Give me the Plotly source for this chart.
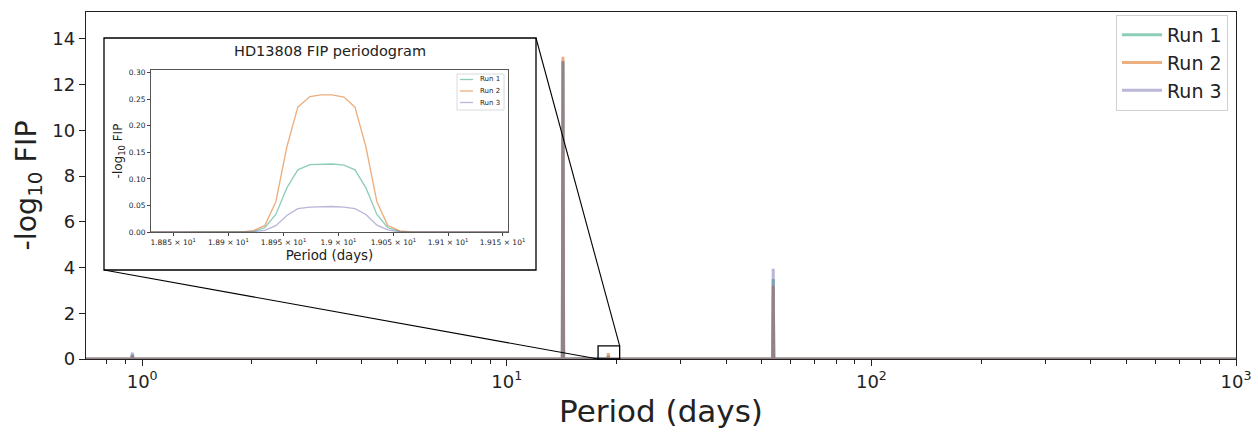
import math
import plotly.graph_objects as go

# ---------------- data ----------------
runs = ["Run 1", "Run 2", "Run 3"]
colors = ["#1b9e77", "#d95f02", "#7570b3"]

# main periodogram (period in days) - sparse samples
main_period = [0.70, 0.935, 0.940, 0.945, 14.20, 14.26, 14.32,
               18.913, 18.923, 18.933, 18.943, 18.953, 18.963, 18.974, 18.984,
               18.994, 19.005, 19.015, 19.025, 19.035, 19.045, 19.056, 19.066,
               53.6, 53.8, 54.0, 1000.0]
main_run1 = [0, 0, 0.18, 0, 0, 13.0, 0,
             0, 0.001, 0.008, 0.033, 0.083, 0.117, 0.127, 0.128,
             0.128, 0.126, 0.117, 0.083, 0.033, 0.008, 0.001, 0,
             0, 3.5, 0, 0]
main_run2 = [0, 0, 0.14, 0, 0, 13.22, 0,
             0, 0.003, 0.012, 0.057, 0.160, 0.235, 0.255, 0.258,
             0.258, 0.254, 0.235, 0.160, 0.057, 0.012, 0.002, 0,
             0, 3.2, 0, 0]
main_run3 = [0, 0, 0.28, 0, 0, 13.05, 0,
             0, 0.001, 0.003, 0.012, 0.031, 0.044, 0.047, 0.048,
             0.048, 0.047, 0.044, 0.033, 0.013, 0.004, 0.0, 0,
             0, 3.95, 0, 0]

# inset (zoom on the ~19 d bump)
inset_period = [18.83, 18.90, 18.913, 18.923, 18.933, 18.943, 18.953, 18.963,
                18.974, 18.984, 18.994, 19.005, 19.015, 19.025, 19.035,
                19.045, 19.056, 19.066, 19.08, 19.155]
inset_run1 = [0, 0, 0, 0.001, 0.008, 0.033, 0.083, 0.117, 0.127, 0.128,
              0.128, 0.126, 0.117, 0.083, 0.033, 0.008, 0.001, 0, 0, 0]
inset_run2 = [0, 0, 0, 0.003, 0.012, 0.057, 0.160, 0.235, 0.255, 0.258,
              0.258, 0.254, 0.235, 0.160, 0.057, 0.012, 0.002, 0, 0, 0]
inset_run3 = [0, 0, 0, 0.0005, 0.003, 0.012, 0.031, 0.044, 0.047, 0.048,
              0.048, 0.047, 0.044, 0.033, 0.013, 0.004, 0.0, 0, 0, 0]

main_xticks = [1, 10, 100, 1000]
main_xticktext = ["10<sup>0</sup>", "10<sup>1</sup>", "10<sup>2</sup>", "10<sup>3</sup>"]
main_yticks = [0, 2, 4, 6, 8, 10, 12, 14]
inset_xticks = [18.85, 18.90, 18.95, 19.00, 19.05, 19.10, 19.15]
inset_xticktext = ["1.885 × 10<sup>1</sup>", "1.89 × 10<sup>1</sup>", "1.895 × 10<sup>1</sup>",
                   "1.9 × 10<sup>1</sup>", "1.905 × 10<sup>1</sup>", "1.91 × 10<sup>1</sup>",
                   "1.915 × 10<sup>1</sup>"]
inset_yticks = [0.0, 0.05, 0.10, 0.15, 0.20, 0.25, 0.30]

# zoom indicator box in data coordinates
box_x = [17.8, 20.4]
box_y = [0.0, 0.57]

# ---------------- layout geometry ----------------
W, H = 1258, 432
L, R, T, B = 86, 22, 12, 73
xr_main = [-0.154, 3.0]
yr_main = [0, 15.18]
pw, ph = W - L - R, H - T - B


def px_to_paper(px, py):
    return (px - L) / pw, (H - B - py) / ph


def data_to_paper(x, y):
    fx = (math.log10(x) - xr_main[0]) / (xr_main[1] - xr_main[0])
    fy = (y - yr_main[0]) / (yr_main[1] - yr_main[0])
    return fx, fy


minor_vals = [m * 10 ** k for k in range(-1, 3) for m in range(2, 10)]

fig = go.Figure()
FONT = "DejaVu Sans"
mains = [main_run1, main_run2, main_run3]
insets = [inset_run1, inset_run2, inset_run3]
for i in range(3):
    fig.add_trace(go.Scatter(x=main_period, y=mains[i], mode="lines", name=runs[i],
                             line=dict(color=colors[i], width=3), opacity=0.5,
                             xaxis="x", yaxis="y", legend="legend"))
for i in range(3):
    fig.add_trace(go.Scatter(x=inset_period, y=insets[i], mode="lines", name=runs[i],
                             line=dict(color=colors[i], width=1.3), opacity=0.5,
                             xaxis="x2", yaxis="y2", showlegend=False))

# inset geometry (pixels)
ix0, iy0, ix1, iy1 = 104, 38, 536, 270        # outer frame
ax0, ay0, ax1, ay1 = 151, 70, 508, 232        # inset axes
fx0, fy1 = px_to_paper(ix0, iy0)
fx1, fy0 = px_to_paper(ix1, iy1)
dx0, dy1 = px_to_paper(ax0, ay0)
dx1, dy0 = px_to_paper(ax1, ay1)

axcol = "#222222"
fig.update_layout(
    width=W, height=H,
    margin=dict(l=L, r=R, t=T, b=B, autoexpand=False),
    paper_bgcolor="white", plot_bgcolor="white",
    font=dict(family=FONT, color="#222222"),
    xaxis=dict(type="log", range=xr_main, domain=[0, 1], automargin=False,
               tickvals=main_xticks, ticktext=main_xticktext,
               ticks="outside", ticklen=6, tickcolor=axcol, tickwidth=1.2,
               showline=True, linecolor=axcol, linewidth=1.3, mirror=True,
               showgrid=False, zeroline=False, tickfont=dict(size=18),
               minor=dict(tickvals=minor_vals, ticks="outside", ticklen=3.5,
                          tickcolor=axcol, tickwidth=1, showgrid=False),
               title=dict(text="Period (days)", font=dict(size=31), standoff=9)),
    yaxis=dict(range=yr_main, domain=[0, 1], tickvals=main_yticks, automargin=False,
               ticks="outside", ticklen=6, tickcolor=axcol, tickwidth=1.2,
               showline=True, linecolor=axcol, linewidth=1.3, mirror=True,
               showgrid=False, zeroline=False, tickfont=dict(size=18),
               title=dict(text="-log<sub>10</sub> FIP", font=dict(size=28.5), standoff=7)),
    xaxis2=dict(type="log", range=[math.log10(18.83), math.log10(19.155)],
                domain=[dx0, dx1], anchor="y2", automargin=False,
                tickvals=inset_xticks, ticktext=inset_xticktext,
                ticks="outside", ticklen=3, tickcolor="#444", tickwidth=0.8,
                showline=True, linecolor="#555", linewidth=0.9, mirror=True,
                showgrid=False, zeroline=False, tickfont=dict(size=7.5),
                title=dict(text="Period (days)", font=dict(size=13.3), standoff=4)),
    yaxis2=dict(range=[0, 0.305], domain=[dy0, dy1], anchor="x2", automargin=False,
                tickvals=inset_yticks, tickformat=".2f",
                ticks="outside", ticklen=3, tickcolor="#444", tickwidth=0.8,
                showline=True, linecolor="#555", linewidth=0.9, mirror=True,
                showgrid=False, zeroline=False, tickfont=dict(size=7.5),
                title=dict(text="-log<sub>10</sub> FIP", font=dict(size=12), standoff=3)),
    legend=dict(x=px_to_paper(1228, 0)[0], y=px_to_paper(0, 15)[1],
                xanchor="right", yanchor="top",
                bgcolor="rgba(255,255,255,0.9)", bordercolor="#d0d0d0", borderwidth=1,
                font=dict(size=19), itemwidth=40, tracegroupgap=0),
    showlegend=True,
)

# inset white frame (below traces)
fig.add_shape(type="rect", xref="paper", yref="paper", x0=fx0, x1=fx1, y0=fy0, y1=fy1,
              fillcolor="white", line=dict(color="black", width=1.3), layer="below")

# zoom indicator box + connectors
bx0, by0 = data_to_paper(box_x[0], box_y[0])
bx1, by1 = data_to_paper(box_x[1], box_y[1])
fig.add_shape(type="rect", xref="paper", yref="paper", x0=bx0, x1=bx1, y0=by0, y1=by1,
              line=dict(color="black", width=1.3), layer="above")
fig.add_shape(type="line", xref="paper", yref="paper", x0=fx0, y0=fy0, x1=bx0, y1=by0,
              line=dict(color="black", width=1.1), layer="above")
fig.add_shape(type="line", xref="paper", yref="paper", x0=fx1, y0=fy1, x1=bx1, y1=by1,
              line=dict(color="black", width=1.1), layer="above")

# inset title
tx, ty = px_to_paper(330, 51)
fig.add_annotation(text="HD13808 FIP periodogram", xref="paper", yref="paper",
                   x=tx, y=ty, showarrow=False, font=dict(size=14.5, color="#222"),
                   xanchor="center", yanchor="middle")

# compact inset legend (box, line samples, labels)
lg_x0, lg_y0, lg_x1, lg_y1 = 457, 74, 504, 110
p0 = px_to_paper(lg_x0, lg_y1)
p1 = px_to_paper(lg_x1, lg_y0)
fig.add_shape(type="rect", xref="paper", yref="paper", x0=p0[0], y0=p0[1], x1=p1[0], y1=p1[1],
              fillcolor="rgba(255,255,255,0.9)", line=dict(color="#d0d0d0", width=0.8),
              layer="above")
for i in range(3):
    yy = 79.5 + 11.5 * i
    a = px_to_paper(460, yy)
    b = px_to_paper(473, yy)
    fig.add_shape(type="line", xref="paper", yref="paper", x0=a[0], y0=a[1], x1=b[0], y1=b[1],
                  line=dict(color=colors[i], width=1.3), opacity=0.5, layer="above")
    t = px_to_paper(478, yy)
    fig.add_annotation(text=runs[i], xref="paper", yref="paper", x=t[0], y=t[1],
                       showarrow=False, xanchor="left", yanchor="middle",
                       font=dict(size=7, color="#222"))

fig.write_html("out.html")
